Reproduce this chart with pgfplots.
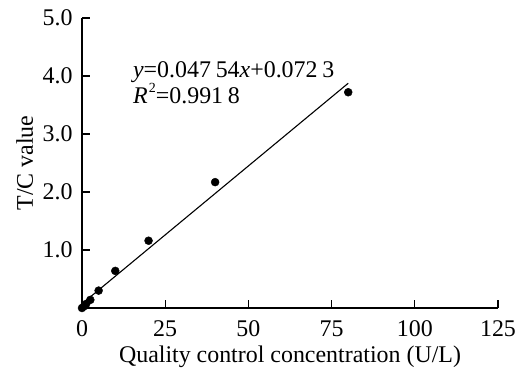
\documentclass[border=0pt]{standalone}
\usepackage{pgfplots}
\pgfplotsset{compat=1.18}
\usepackage{fontspec}
\setmainfont{Liberation Serif}
\begin{document}
\begin{tikzpicture}
\begin{axis}[
  at={(0,0)}, anchor=origin,
  scale only axis,
  width=416bp, height=290bp,
  xmin=0, xmax=125, ymin=0, ymax=5,
  axis x line=bottom, axis y line=left,
  axis line style={-, line width=1.3bp},
  xtick={0,25,50,75,100,125},
  ytick={1,2,3,4,5},
  yticklabel style={/pgf/number format/fixed,/pgf/number format/fixed zerofill,/pgf/number format/precision=1, xshift=-6bp},
  xticklabel style={yshift=-9bp},
  /pgf/number format/assume math mode=true,
  tick align=inside,
  major tick length=8bp,
  tick style={line width=1.3bp, black},
  ticklabel style={font=\fontsize{24}{27}\selectfont},
  label style={font=\fontsize{24}{27}\selectfont},
  xlabel={Quality control concentration (U/L)},
  ylabel={T/C value},
  xlabel style={at={(axis description cs:0.5,-0.1862)}, anchor=base},
  ylabel style={at={(axis description cs:-0.1178,0.5)}, anchor=base, rotate=0},
  clip=false,
]
\addplot[only marks, mark=*, mark size=4bp, black] coordinates {
  (0,0.0) (0.625,0.03) (1.25,0.07) (2.5,0.14) (5,0.30) (10,0.64) (20,1.16) (40,2.17) (80,3.72)
};
\addplot[black, line width=1.1bp] coordinates {(0,0.0723) (80,3.8755)};
\node[anchor=base west, inner sep=0pt, font=\fontsize{24}{27}\selectfont] at (axis cs:15.3,3.97)
  {\textit{y}=0.047\kern0.2em 54\textit{x}+0.072\kern0.2em 3};
\node[anchor=base west, inner sep=0pt, font=\fontsize{24}{27}\selectfont] at (axis cs:15.3,3.53)
  {\textit{R}\kern0.05em\raisebox{0.45em}{\fontsize{14}{16}\selectfont 2}=0.991\kern0.2em 8};
\end{axis}
\pgfresetboundingbox
\useasboundingbox (-82bp,-62bp) rectangle (438bp,308bp);
\end{tikzpicture}
\end{document}
